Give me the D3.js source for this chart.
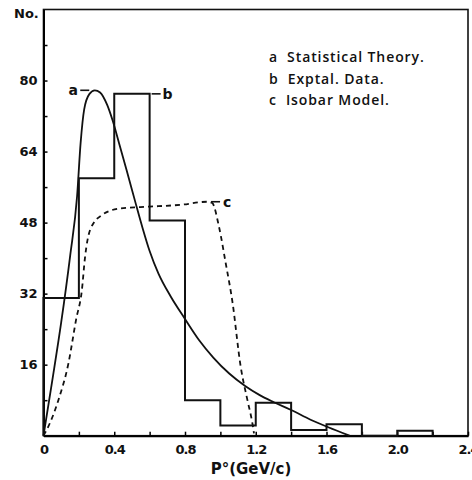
<!DOCTYPE html>
<html>
<head>
<meta charset="utf-8">
<script src="https://cdn.jsdelivr.net/npm/d3@7"></script>
<style>
  body { margin: 0; background: #fff; }
  svg { display: block; }
  .tick text { font-family: "DejaVu Sans", sans-serif; font-weight: bold; font-size: 13px; fill: #111; }
  .legend text { font-family: "Open Sans", sans-serif; font-weight: 600; font-size: 14px; fill: #111; }
</style>
</head>
<body>
<div id="chart"></div>
<script>
// histogram bins (GeV/c) and experimental counts
var binStart = [0, 0.2, 0.4, 0.6, 0.8, 1.0, 1.2, 1.4, 1.6, 1.8, 2.0];
var binWidth = 0.2;
var exptCounts = [31, 58, 77, 48.5, 8, 2.3, 7.4, 1.3, 2.6, 0, 1.1];

// curve a : statistical theory
var theoryX = [0, 0.05, 0.10, 0.15, 0.19, 0.21, 0.23, 0.26, 0.29, 0.32, 0.36, 0.39, 0.43, 0.47, 0.52, 0.56, 0.60, 0.65, 0.72, 0.80, 0.88, 0.96, 1.05, 1.14, 1.22, 1.30, 1.40, 1.51, 1.61, 1.73];
var theoryY = [0, 12.5, 25.5, 40.3, 54, 66, 73.5, 77, 77.8, 77.3, 74.5, 71.1, 65.5, 59.8, 52.5, 46.8, 41.6, 36.5, 31.3, 26.3, 21.5, 17.6, 14.0, 11.2, 9.2, 7.6, 5.8, 3.6, 1.9, 0];

// curve c : isobar model
var isobarX = [0, 0.018, 0.084, 0.141, 0.184, 0.217, 0.235, 0.264, 0.33, 0.434, 0.548, 0.65, 0.774, 0.926, 0.954, 0.992, 1.03, 1.068, 1.115, 1.153, 1.181, 1.19];
var isobarY = [0, 1.3, 8, 16.3, 26.1, 32.8, 40.3, 46.4, 49.7, 51.2, 51.5, 51.7, 52, 52.7, 52.4, 47.1, 38.9, 30.2, 15.5, 8, 2.8, 0.5];

var xTicks = [0, 0.2, 0.4, 0.6, 0.8, 1.0, 1.2, 1.4, 1.6, 1.8, 2.0, 2.2, 2.4];
var xLabels = ["0", "", "0.4", "", "0.8", "", "1.2", "", "1.6", "", "2.0", "", "2.4"];
var yTicks = [8, 16, 24, 32, 40, 48, 56, 64, 72, 80, 88];
var yLabels = ["", "16", "", "32", "", "48", "", "64", "", "80", ""];

var legendItems = ["a  Statistical Theory.", "b  Exptal. Data.", "c  Isobar Model."];

var W = 472, H = 480;
var svg = d3.select("#chart").append("svg").attr("width", W).attr("height", H);

var x = d3.scaleLinear().domain([0, 2.4]).range([43.5, 468]);
var y = d3.scaleLinear().domain([0, 96]).range([435.7, 9.5]);

// frame
svg.append("rect")
  .attr("x", x(0)).attr("y", y(96))
  .attr("width", x(2.4) - x(0)).attr("height", y(0) - y(96))
  .attr("fill", "none").attr("stroke", "#111").attr("stroke-width", 1.6);

// axes, ticks pointing inwards
var xAxis = d3.axisBottom(x).tickValues(xTicks)
  .tickSizeInner(-4).tickSizeOuter(0).tickPadding(9)
  .tickFormat(function (d, i) { return xLabels[i]; });
var gx = svg.append("g").attr("transform", "translate(0," + y(0) + ")").call(xAxis);
gx.select(".domain").attr("stroke-width", 2);
gx.selectAll(".tick line").attr("stroke-width", 1.5);
gx.selectAll(".tick text").attr("letter-spacing", "-1");

var yAxis = d3.axisLeft(y).tickValues(yTicks)
  .tickSizeInner(-4).tickSizeOuter(0).tickPadding(6)
  .tickFormat(function (d, i) { return yLabels[i]; });
var gy = svg.append("g").attr("transform", "translate(" + x(0) + ",0)").call(yAxis);
gy.select(".domain").attr("stroke-width", 2);
gy.selectAll(".tick line").attr("stroke-width", 1.5);

// axis titles
svg.append("text").attr("x", 14).attr("y", 18)
  .attr("font-family", "DejaVu Sans, sans-serif").attr("font-weight", "bold")
  .attr("font-size", 13).attr("fill", "#111").text("No.");
svg.append("text").attr("x", 251).attr("y", 474).attr("text-anchor", "middle")
  .attr("font-family", "DejaVu Sans, sans-serif").attr("font-weight", "bold")
  .attr("font-size", 15).attr("fill", "#111").text("P°(GeV/c)");

// histogram b as a step outline
var histPts = [[0, 0]];
binStart.forEach(function (b, i) {
  histPts.push([b, exptCounts[i]]);
  histPts.push([b + binWidth, exptCounts[i]]);
});
histPts.push([binStart[binStart.length - 1] + binWidth, 0]);

var line = d3.line().x(function (d) { return x(d[0]); }).y(function (d) { return y(d[1]); });

svg.append("path").datum(histPts)
  .attr("d", line).attr("fill", "none")
  .attr("stroke", "#111").attr("stroke-width", 2).attr("stroke-linejoin", "miter");

var smooth = d3.line().curve(d3.curveMonotoneX)
  .x(function (d) { return x(d[0]); }).y(function (d) { return y(d[1]); });

svg.append("path").datum(d3.zip(theoryX, theoryY))
  .attr("d", smooth).attr("fill", "none")
  .attr("stroke", "#111").attr("stroke-width", 1.8);

svg.append("path").datum(d3.zip(isobarX, isobarY))
  .attr("d", smooth).attr("fill", "none")
  .attr("stroke", "#111").attr("stroke-width", 1.8)
  .attr("stroke-dasharray", "5,4");

// curve tags a, b, c
function tag(px, py, label, side) {
  var x0 = x(px), y0 = y(py);
  var dx = side < 0 ? -1 : 1;
  svg.append("line")
    .attr("x1", x0 + dx * 2).attr("x2", x0 + dx * 11)
    .attr("y1", y0).attr("y2", y0)
    .attr("stroke", "#111").attr("stroke-width", 1.6);
  svg.append("text")
    .attr("x", x0 + dx * 18).attr("y", y0 + 5)
    .attr("text-anchor", "middle")
    .attr("font-family", "DejaVu Sans, sans-serif").attr("font-weight", "bold")
    .attr("font-size", 14).attr("fill", "#111").text(label);
}
var iPeak = theoryY.indexOf(d3.max(theoryY));
tag(theoryX[iPeak] - 0.02, theoryY[iPeak], "a", -1);
tag(binStart[2] + binWidth, exptCounts[2], "b", 1);
var iKnee = isobarY.indexOf(d3.max(isobarY));
tag(isobarX[iKnee] + 0.01, isobarY[iKnee], "c", 1);

// legend
var leg = svg.append("g").attr("class", "legend");
leg.selectAll("text").data(legendItems).enter().append("text")
  .attr("x", 269)
  .attr("y", function (d, i) { return 62 + i * 21.5; })
  .attr("xml:space", "preserve")
  .attr("letter-spacing", "0.9")
  .text(function (d) { return d; });
</script>
</body>
</html>
